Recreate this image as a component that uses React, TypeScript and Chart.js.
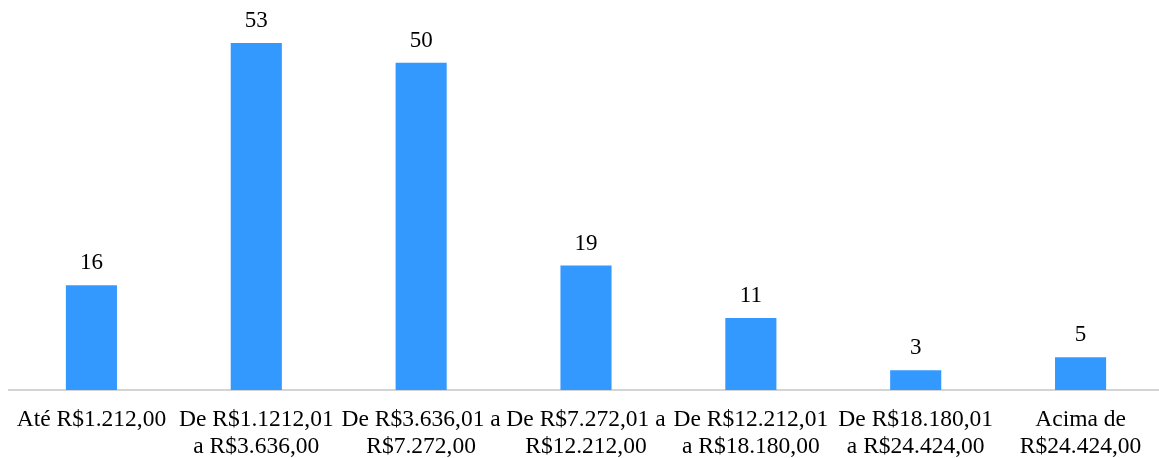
import React, { useEffect, useRef } from "react";
import { Chart, registerables } from "chart.js";

Chart.register(...registerables);

const categories: (string | string[])[] = [
  "Até R$1.212,00",
  ["De R$1.1212,01", "a R$3.636,00"],
  ["De R$3.636,01 a", "R$7.272,00"],
  ["De R$7.272,01 a", "R$12.212,00"],
  ["De R$12.212,01", "a R$18.180,00"],
  ["De R$18.180,01", "a R$24.424,00"],
  ["Acima de", "R$24.424,00"],
];
const values: number[] = [16, 53, 50, 19, 11, 3, 5];

const FONT = "'Liberation Serif', 'Times New Roman', serif";

const valueLabels = {
  id: "valueLabels",
  afterDatasetsDraw(chart: any) {
    const ctx = chart.ctx;
    const meta = chart.getDatasetMeta(0);
    ctx.save();
    ctx.font = `23px ${FONT}`;
    ctx.fillStyle = "#000000";
    ctx.textAlign = "center";
    ctx.textBaseline = "middle";
    meta.data.forEach((el: any, i: number) => {
      ctx.fillText(String(values[i]), el.x, el.y - 22);
    });
    ctx.restore();
  },
};

export default function App() {
  const ref = useRef<HTMLCanvasElement>(null);
  useEffect(() => {
    if (!ref.current) return;
    const chart = new Chart(ref.current, {
      type: "bar",
      data: {
        labels: categories,
        datasets: [
          {
            data: values,
            backgroundColor: "#3399ff",
            borderWidth: 0,
            barPercentage: 0.31,
            categoryPercentage: 1,
          },
        ],
      },
      options: {
        animation: false,
        responsive: false,
        maintainAspectRatio: false,
        layout: { padding: { left: 9, right: 7, top: 30, bottom: -18 } },
        plugins: {
          legend: { display: false },
          tooltip: { enabled: false },
        },
        scales: {
          x: {
            grid: { display: false, drawTicks: false },
            border: { display: true, color: "#d4d4d4", width: 2 },
            ticks: {
              autoSkip: false,
              maxRotation: 0,
              minRotation: 0,
              padding: 16,
              color: "#000000",
              font: { family: FONT, size: 23.5, lineHeight: 1.15 },
            },
          },
          y: {
            display: false,
            min: 0,
            max: 55,
          },
        },
      },
      plugins: [valueLabels],
    });
    return () => chart.destroy();
  }, []);
  return (
    <div style={{ position: "fixed", left: 0, top: 0, width: 1170, height: 458, background: "#fff" }}>
      <canvas ref={ref} width={1170} height={458} style={{ width: 1170, height: 458 }} />
    </div>
  );
}
